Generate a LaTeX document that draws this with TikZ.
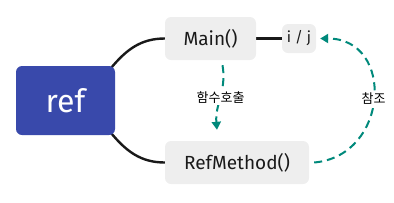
\documentclass[tikz,border=0pt]{standalone}
\usepackage{fontspec}
\setmainfont{Fira Sans}
\newfontfamily\kofont{Noto Sans CJK KR}
\usetikzlibrary{arrows.meta,backgrounds}
\definecolor{refblue}{HTML}{3949AB}
\definecolor{boxgray}{HTML}{EEEEEE}
\definecolor{teal}{HTML}{00897B}
\definecolor{txt}{HTML}{1A1A1A}
\begin{document}
\begin{tikzpicture}[x=1pt,y=-1pt,
  box/.style={fill=boxgray,rounded corners=6pt,inner sep=0pt,text=txt,font=\fontsize{19}{19}\selectfont},
  rootbox/.style={fill=refblue,rounded corners=6pt,inner sep=0pt,text=white,font=\fontsize{32}{32}\selectfont},
  link/.style={line width=2.4pt,draw=black!90},
  refarrow/.style={line width=2pt,draw=teal,dash pattern=on 8pt off 5pt,-{Triangle[length=8pt,width=9pt,fill=teal]}},
  lbl/.style={fill=white,inner sep=1.5pt,font=\kofont\fontsize{13}{13}\selectfont,text=black}]
\useasboundingbox (0,0) rectangle (394,202);
\node[rootbox,minimum width=99pt,minimum height=69pt] (ref) at (65.5,100.5) {ref};
\node[box,minimum width=91pt,minimum height=43pt] (main) at (210.5,38.5) {Main()};
\node[box,minimum width=34pt,minimum height=29pt,font=\fontsize{15}{15}\selectfont] (ij) at (299,38.5) {i / j};
\node[box,minimum width=144pt,minimum height=43pt] (rm) at (237,162.5) {RefMethod()};
\begin{scope}[on background layer]
\draw[link] ([xshift=-4pt,yshift=-2pt]ref.north east) to[out=50,in=180] (main.west);
\draw[link] ([xshift=-4pt,yshift=2pt]ref.south east) to[out=-50,in=180] (rm.west);
\draw[link] (main.east) -- (ij.west);
\end{scope}
\draw[refarrow] ([xshift=12pt,yshift=-5pt]main.south) to[out=-80,in=95] node[lbl,pos=0.5] {함수호출} ([xshift=-20pt,yshift=11pt]rm.north);
\draw[refarrow] ([xshift=5pt]rm.east) to[out=5,in=0,looseness=1.55] node[lbl,pos=0.5] {참조} ([xshift=4pt]ij.east);
\end{tikzpicture}
\end{document}
